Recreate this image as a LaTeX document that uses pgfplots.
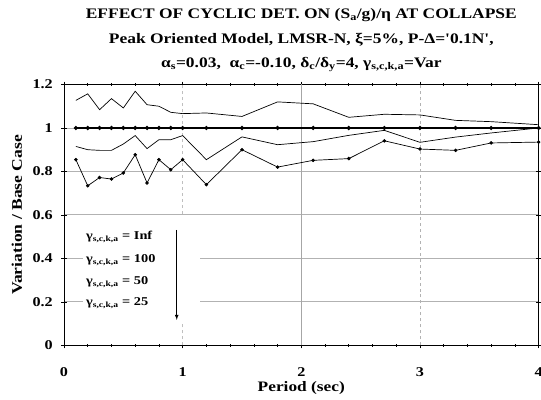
\documentclass[border=0pt]{standalone}
\usepackage{pgfplots}
\pgfplotsset{compat=1.18}
\usepackage{fontspec}
\setmainfont{Liberation Serif}
\newfontfamily\wide[FakeStretch=1.2]{Liberation Serif}

\begin{document}
\begin{tikzpicture}
\begin{axis}[
 scale only axis, width=474.6bp, height=260.8bp,
 xmin=0,xmax=4,ymin=0,ymax=1.2,
 xtick={0,1,2,3,4}, ytick={0,0.2,0.4,0.6,0.8,1,1.2},
 minor x tick num=4,
 tick align=center,
 /pgf/number format/assume math mode=true,
 ticklabel style={font=\wide\fontsize{13.5}{13.5}\selectfont\bfseries, inner sep=0pt},
 yticklabel style={anchor=east, xshift=-8bp},
 xticklabel style={anchor=north, yshift=-19bp},
 xlabel={Period (sec)}, ylabel={Variation / Base Case},
 xlabel style={font=\wide\fontsize{14.5}{14.5}\selectfont\bfseries, inner sep=0pt, at={([yshift=-45.7bp]axis description cs:0.5,0)}, anchor=base},
 ylabel style={font=\wide\fontsize{14.7}{14.7}\selectfont\bfseries, inner sep=0pt, at={([xshift=-47bp]axis description cs:0,0.5)}, anchor=center},
 title style={font=\wide\fontsize{14.6}{24.5}\selectfont\bfseries, align=center, at={([yshift=11bp]axis description cs:0.5,1)}, anchor=base, inner sep=0pt},
 title={EFFECT OF CYCLIC DET. ON (S\textsubscript{a}/g)/η AT COLLAPSE\\ Peak Oriented Model, LMSR-N, ξ=5\%, P-Δ='0.1N',\\ α\textsubscript{s}=0.03, \ α\textsubscript{c}=-0.10, δ\textsubscript{c}/δ\textsubscript{y}=4, γ\textsubscript{s,c,k,a}=Var},
 ymajorgrids, major grid style={gray!60, line width=0.9pt},
 axis line style={line width=1pt},
 every tick/.style={black, line width=0.6pt},
 major tick length=6pt, minor tick length=3pt,
 cycle list={{black, mark=*}},
 every axis plot/.append style={line width=0.7pt, mark size=1.4pt},
]
\draw[gray!50, dashed, line width=0.6pt] (axis cs:1,0) -- (axis cs:1,1.2);
\draw[gray!70, line width=0.8pt] (axis cs:2,0) -- (axis cs:2,1.2);
\draw[gray!60, dashed, line width=0.7pt] (axis cs:3,0) -- (axis cs:3,1.2);

\addplot coordinates {(0.1,1.127)(0.2,1.157)(0.3,1.084)(0.4,1.135)(0.5,1.092)(0.6,1.169)(0.7,1.107)(0.8,1.100)(0.9,1.072)(1.0,1.066)(1.2,1.069)(1.5,1.053)(1.8,1.120)(2.1,1.111)(2.4,1.049)(2.7,1.063)(3.0,1.060)(3.3,1.035)(3.6,1.029)(4.0,1.015)};
\addplot+[line width=1.3pt] coordinates {(0.1,1)(0.2,1)(0.3,1)(0.4,1)(0.5,1)(0.6,1)(0.7,1)(0.8,1)(0.9,1)(1.0,1)(1.2,1)(1.5,1)(1.8,1)(2.1,1)(2.4,1)(2.7,1)(3.0,1)(3.3,1)(3.6,1)(4.0,1)};
\addplot coordinates {(0.1,0.915)(0.2,0.900)(0.3,0.897)(0.4,0.897)(0.5,0.926)(0.6,0.965)(0.7,0.905)(0.8,0.946)(0.9,0.946)(1.0,0.965)(1.2,0.854)(1.5,0.959)(1.8,0.923)(2.1,0.937)(2.4,0.966)(2.7,0.989)(3.0,0.934)(3.3,0.958)(3.6,0.977)(4.0,1.0)};
\addplot coordinates {(0.1,0.854)(0.2,0.734)(0.3,0.772)(0.4,0.765)(0.5,0.793)(0.6,0.877)(0.7,0.747)(0.8,0.854)(0.9,0.808)(1.0,0.854)(1.2,0.739)(1.5,0.900)(1.8,0.820)(2.1,0.851)(2.4,0.859)(2.7,0.941)(3.0,0.903)(3.3,0.897)(3.6,0.931)(4.0,0.935)};

\fill[white] (axis cs:0.16,0.108) rectangle (axis cs:1.15,0.595);
\begin{scope}[every node/.style={anchor=base west, inner sep=0pt, font=\wide\fontsize{12}{12}\selectfont\bfseries}]
\node at (axis cs:0.185,0.488) {γ\textsubscript{s,c,k,a} = Inf};
\node at (axis cs:0.185,0.381) {γ\textsubscript{s,c,k,a} = 100};
\node at (axis cs:0.185,0.281) {γ\textsubscript{s,c,k,a} = 50};
\node at (axis cs:0.185,0.181) {γ\textsubscript{s,c,k,a} = 25};
\end{scope}
\draw[-latex, line width=0.7pt] (axis cs:0.95,0.531) -- (axis cs:0.95,0.117);
\end{axis}
\pgfresetboundingbox
\useasboundingbox ([xshift=-64bp, yshift=-54.7bp]current axis.south west) rectangle ([xshift=2.4bp, yshift=84.5bp]current axis.north east);
\end{tikzpicture}
\end{document}
